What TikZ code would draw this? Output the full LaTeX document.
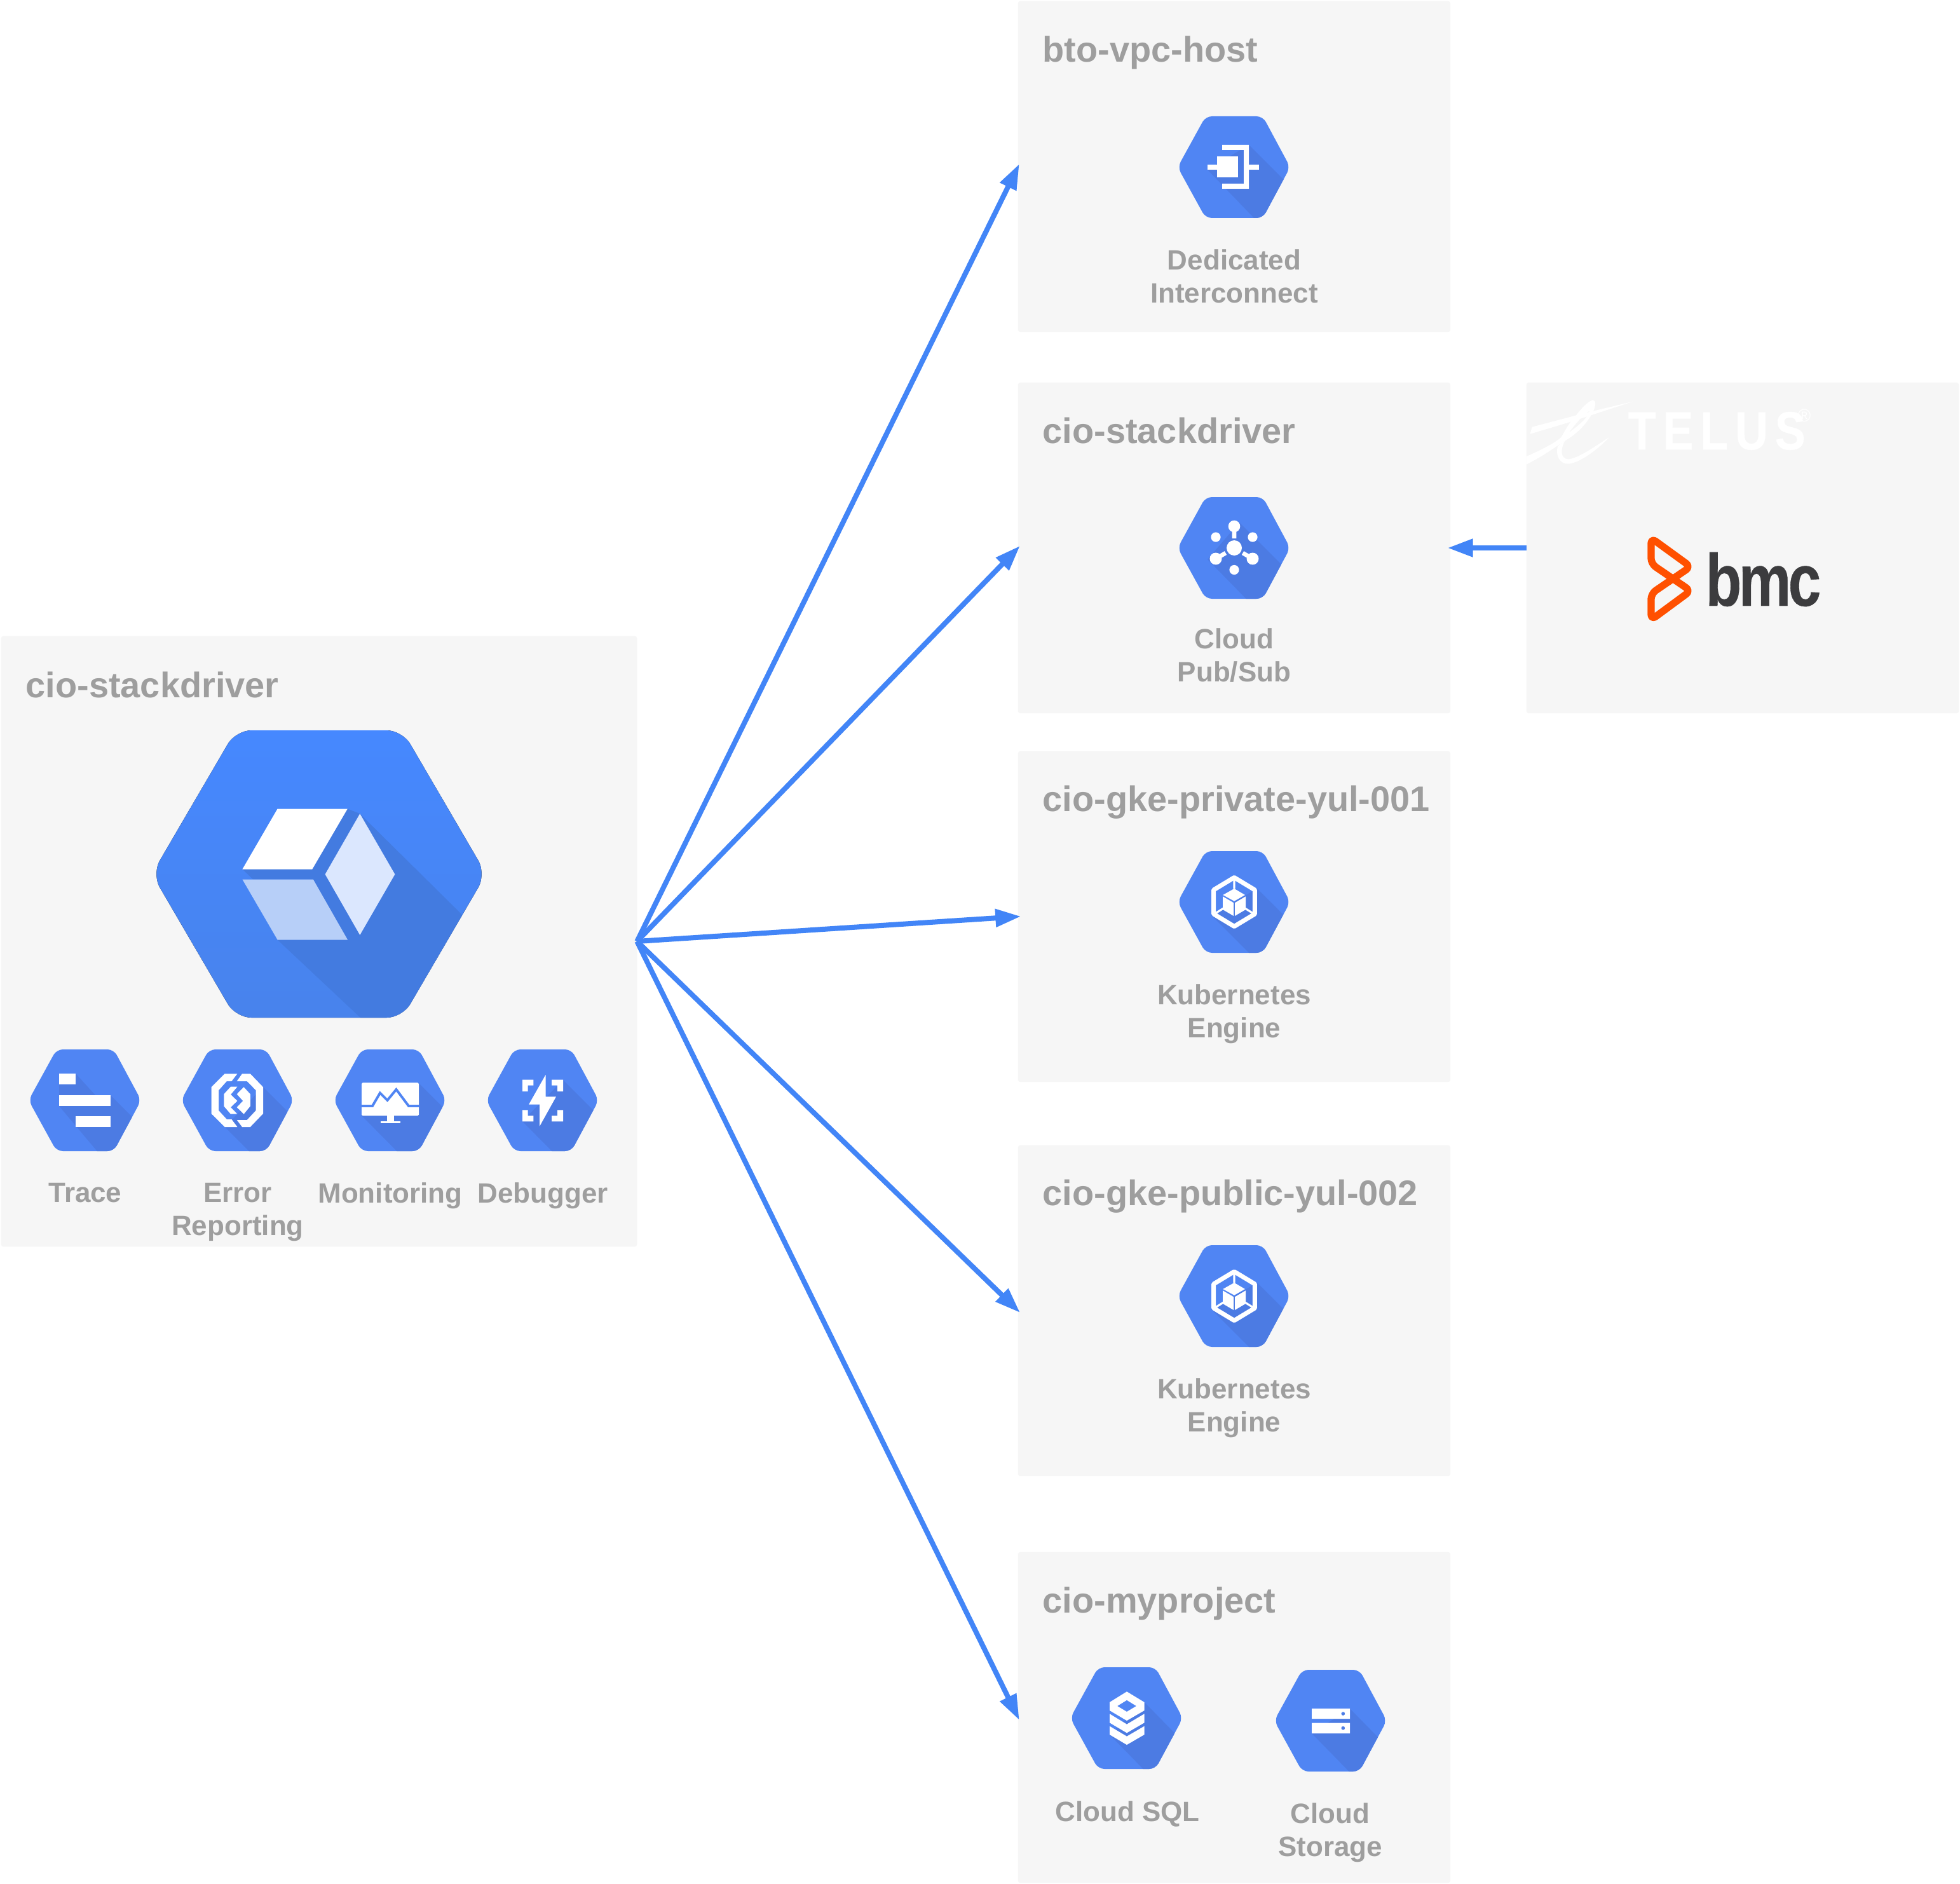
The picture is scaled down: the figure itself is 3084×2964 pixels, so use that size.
\documentclass[tikz,border=0pt]{standalone}
\usepackage{fontspec}
\setmainfont{Liberation Sans}
\newfontfamily\telusfont[LetterSpace=13,FakeStretch=0.85,FakeBold=0.6]{Liberation Sans Bold}
\newfontfamily\bmcfont[LetterSpace=-5,FakeBold=0.4]{Liberation Sans Bold}
\usetikzlibrary{arrows.meta}
\definecolor{panelgrey}{HTML}{F6F6F6}
\definecolor{textgrey}{HTML}{9E9E9E}
\definecolor{linkblue}{HTML}{4285F7}
\definecolor{hexblue}{HTML}{5085F3}
\definecolor{hexshadow}{HTML}{4C7BE3}
\definecolor{bigtop}{HTML}{4688FF}
\definecolor{bigbottom}{HTML}{4883EC}
\definecolor{bigshadow}{HTML}{437BE0}
\definecolor{cubemid}{HTML}{B7CFF8}
\definecolor{cubepale}{HTML}{DBE7FE}
\definecolor{bmcorange}{HTML}{FF5000}
\definecolor{bmcdark}{HTML}{3C3C3E}
\tikzset{
  panel/.style={fill=panelgrey,draw=none,rounded corners=1pt,inner sep=0,outer sep=0},
  conn/.style={linkblue,line width=2.28pt,shorten >=-1.3pt,-{Triangle[length=11.4pt,width=7.7pt]}},
  title/.style={anchor=base west,inner sep=0,text=textgrey,font=\bfseries\fontsize{15.9}{18}\selectfont},
  lbl/.style={anchor=north,inner sep=0,align=center,text=textgrey,font=\bfseries\fontsize{12.5}{14.7}\selectfont},
  ic/.style={fill=white,draw=none},
  sh/.style={fill=hexshadow,draw=none}
}
\newcommand{\hexicon}[3]{%
  \begin{scope}[shift={(#1,#2)}]
    \clip[rounded corners=2.8pt] (-89,0)--(-45,-80)--(45,-80)--(88,0)--(45,80)--(-45,80)--cycle;
    \fill[hexblue] (-100,-100) rectangle (100,100);
    #3
  \end{scope}}
\newcommand{\kubeicon}{%
  \fill[sh] (36,-21)--(110,53)--(110,110)--(53,110)--(-36,21)--cycle;
  \draw[white,line width=2pt,line join=round] (0,-38.5)--(32.3,-19)--(32.3,19)--(0,38.5)--(-32.3,19)--(-32.3,-19)--cycle;
  \draw[white,line width=0.9pt] (0,-38)--(0,-21) (-33,20)--(-17,10) (33,20)--(17,10);
  \fill[ic] (0,-21)--(17,-11)--(0,-1.3)--(-17.7,-11)--cycle;
  \fill[ic] (-18,-8.7)--(-1,1.3)--(-1,22)--(-18,12)--cycle;
  \fill[ic] (1,1.3)--(18,-8.7)--(18,12)--(1,22)--cycle;}
\begin{document}
\begin{tikzpicture}[x=0.01cm,y=-0.01cm]
\useasboundingbox (0,0) rectangle (3084,2964);
\fill[white] (0,0) rectangle (3084,2964);

% panels
\node[panel,minimum width=10cm,minimum height=9.6cm] (src) at (502,1481) {};
\node[panel,minimum width=6.8cm,minimum height=5.2cm] (p1) at (1942,262) {};
\node[panel,minimum width=6.8cm,minimum height=5.2cm] (p2) at (1942,862) {};
\node[panel,minimum width=6.8cm,minimum height=5.2cm] (p3) at (1942,1442) {};
\node[panel,minimum width=6.8cm,minimum height=5.2cm] (p4) at (1942,2062) {};
\node[panel,minimum width=6.8cm,minimum height=5.2cm] (p5) at (1942,2702) {};
\node[panel,minimum width=6.8cm,minimum height=5.2cm] (bmcp) at (2742,862) {};

% connectors
\draw[conn] (src.east) -- (p1.west);
\draw[conn] (src.east) -- (p2.west);
\draw[conn] (src.east) -- (p3.west);
\draw[conn] (src.east) -- (p4.west);
\draw[conn] (src.east) -- (p5.west);
\draw[conn] (bmcp.west) -- (p2.east);

% titles
\node[title] (t1) at (1640,98) {bto-vpc-host};
\node[title] (t2) at (1640,697) {cio-stackdriver};
\node[title] (t3) at (1640,1276) {cio-gke-private-yul-001};
\node[title] (t4) at (1640,1896) {cio-gke-public-yul-002};
\node[title] (t5) at (1640,2537) {cio-myproject};
\node[title] (t0) at (40,1097) {cio-stackdriver};

% labels
\node[lbl] (l1) at (1942,392) {Dedicated\\Interconnect};
\node[lbl] (l2) at (1942,988) {Cloud\\Pub/Sub};
\node[lbl] (l3) at (1942,1548) {Kubernetes\\Engine};
\node[lbl] (l4) at (1942,2168) {Kubernetes\\Engine};
\node[lbl] (l5) at (1774,2833) {Cloud SQL};
\node[lbl] (l6) at (2093,2836) {Cloud\\Storage};
\node[lbl] (l7) at (134,1861) {Trace};
\node[lbl] (l8) at (374,1861) {Error\\Reporting};
\node[lbl] (l9) at (614,1860) {Monitoring};
\node[lbl] (l10) at (854,1860) {Debugger};

% big hexagon
\begin{scope}[shift={(502,1375)}]
  \clip[rounded corners=7pt] (-263,0)--(-131,-226)--(131,-226)--(263,0)--(131,226)--(-131,226)--cycle;
  \fill[top color=bigtop,bottom color=bigbottom,draw=none] (-270,-230) rectangle (270,230);
  \fill[bigshadow] (44.8,-102.5)--(64,-95)--(235,74)--(235,240)--(80,240)--(-65.4,103.5)--(-9.2,8.5)--(-103.7,8.5)--(-120.6,-7.5)--cycle;
  \fill[white] (-65.4,-102.5)--(44.8,-102.5)--(-10.7,-7.5)--(-120.6,-7.5)--cycle;
  \fill[cubemid] (-120.6,8.5)--(-9.2,8.5)--(45,103.5)--(-65.4,103.5)--cycle;
  \fill[cubepale] (64.3,-94.8)--(119.4,0.5)--(64.3,96)--(9.6,0.5)--cycle;
\end{scope}

% Dedicated Interconnect
\hexicon{1942}{263}{
  \fill[sh] (23,-35)--(123,65)--(110,110)--(60,110)--(-42,4)--cycle;
  \fill[ic] (-27,-17) rectangle (5.7,16.3);
  \fill[ic] (-42,-4.3) rectangle (-27,4.3);
  \fill[ic] (-19,-35)--(23,-35)--(23,34)--(-19,34)--(-19,26)--(15,26)--(15,-27)--(-19,-27)--cycle;
  \fill[ic] (23,-4.3) rectangle (39,4.3);
}
% Pub/Sub
\hexicon{1942}{862}{
  \fill[sh] (8,-40)--(120,72)--(110,110)--(48,110)--(-42,18)--cycle;
  \fill[ic] (0,-34) circle[radius=9.3] (0,0) circle[radius=12] (-29,17) circle[radius=9.5] (29,17) circle[radius=9.5];
  \fill[ic] (-29,-17) circle[radius=7.6] (29,-17) circle[radius=7.6] (0,34.5) circle[radius=7.6];
  \draw[white,line width=1.9pt] (0,-34)--(0,-15) (-29,17)--(-13.5,8) (29,17)--(13.5,8);
}
% Kubernetes
\hexicon{1942}{1419}{\kubeicon}
\hexicon{1942}{2039}{\kubeicon}
% Cloud SQL
\hexicon{1773}{2703}{
  \fill[sh] (27.5,-25)--(115,64)--(115,110)--(55,110)--(-27,26)--cycle;
  \fill[ic,even odd rule] (0,-41.7)--(27.5,-25)--(27.5,-12)--(0,4)--(-27,-12)--(-27,-25)--cycle (0,-28.3)--(15,-19)--(0,-10)--(-15,-19)--cycle;
  \fill[ic] (-27,-6.7)--(0,9.7)--(27.5,-6.7)--(27.5,7.3)--(0,23.3)--(-27,7.3)--cycle;
  \fill[ic] (-27,12.7)--(0,28.7)--(27.5,12.7)--(27.5,26)--(0,42)--(-27,26)--cycle;
}
% Cloud Storage
\hexicon{2094}{2707}{
  \fill[sh] (30,-19)--(115,68)--(115,110)--(58,110)--(-30,20)--cycle;
  \fill[ic,even odd rule] (-30,-19) rectangle (30,-3) (19.3,-11) circle[radius=3];
  \fill[ic,even odd rule] (-30,3.7) rectangle (30,20) (19.3,11.7) circle[radius=3];
}
% Trace
\hexicon{134}{1731}{
  \fill[sh] (-15,-42)--(16,-8)--(40,-8)--(110,62)--(110,110)--(44,110)--(-41,9)--(-41,-25)--cycle;
  \fill[ic] (-41,-41.7) rectangle (-15,-24.7);
  \fill[ic] (-41,-8.3) rectangle (40,8.7);
  \fill[ic] (-15,25) rectangle (40,42);
}
% Error Reporting
\hexicon{374}{1731}{
  \fill[sh] (40,-21)--(115,54)--(115,115)--(53,115)--(-20,42)--cycle;
  \fill[ic] (-20.4,-41.7)--(-0.6,-41.7)--(-9.6,-30)--(-17.2,-30)--(-30,-15.7)--(-30,16)--(-17.2,30)--(-9.6,30)--(-0.6,42)--(-20.4,42)--(-41.5,21)--(-41.5,-20.7)--cycle;
  \fill[ic] (-1.3,-30)--(7,-41.7)--(19.8,-41.7)--(40,-20.7)--(40,21)--(19.8,42)--(7,42)--(-1.3,31)--(14.7,31)--(28.7,16)--(28.7,-15.7)--(14.7,-30)--cycle;
  \fill[ic] (-11,-21.3)--(-0.6,-21.3)--(-11,-9)--(-0.6,1)--(-11,11)--(-0.6,21.7)--(-11,21.7)--(-21.7,9.3)--(-21.7,-9.7)--cycle;
  \fill[ic] (9.6,-20.7)--(19.8,-9.7)--(19.8,9.3)--(9.6,21.7)--(-1.3,11)--(8.3,1)--(-1.3,-9.7)--cycle;
}
% Monitoring
\hexicon{614}{1731}{
  \fill[sh] (45,-27)--(125,53)--(125,120)--(50,120)--(-45,24)--cycle;
  \fill[ic,rounded corners=0.5pt] (-45,-27.7) rectangle (45,24.3);
  \draw[hexblue,line width=1.1pt] (-46,9)--(-28,9)--(-16,-11.5)--(-4.5,0)--(9.5,-17)--(29,9)--(46,9);
  \fill[ic] (-4.6,24) rectangle (5.7,33);
  \fill[ic] (-15.3,32.7) rectangle (16,36);
}
% Debugger
\hexicon{854}{1731}{
  \fill[sh] (32,-32)--(118,54)--(118,118)--(52,118)--(-32,33)--cycle;
  \fill[ic] (4.5,-40)--(4.5,-5.7)--(21,-5.7)--(-5,41)--(-5,6.7)--(-22,6.7)--cycle;
  \fill[ic] (-32,-32.3)--(-14.7,-32.3)--(-14.7,-23.3)--(-23.4,-23.3)--(-23.4,-14)--(-32,-14)--cycle;
  \fill[ic] (14,-32.3)--(32,-32.3)--(32,-14)--(23,-14)--(23,-23.3)--(14,-23.3)--cycle;
  \fill[ic] (-32,15.3)--(-23.4,15.3)--(-23.4,24.3)--(-14.7,24.3)--(-14.7,33.3)--(-32,33.3)--cycle;
  \fill[ic] (23,15.3)--(32,15.3)--(32,33.3)--(14,33.3)--(14,24.3)--(23,24.3)--cycle;
}

% TELUS logo (white on grey)
\node[anchor=base west,inner sep=0,text=white,font=\telusfont\fontsize{24}{24}\selectfont] (telus) at (2561,707) {TELUS};
\node[anchor=center,inner sep=0,text=white,font=\fontsize{8}{8}\selectfont] (telusr) at (2839,654) {®};
\begin{scope}[shift={(2250,600)},xscale=0.532,yscale=0.345]
  \clip (286,0) rectangle (800,500);
  \fill[white] (302,208)--(432,155)--(470,140)--(600,92)--(475,155)--(415,185)--(296,240)--cycle;
  \fill[white] (286,342) .. controls (340,305) and (375,275) .. (388,255) .. controls (400,225) and (410,190) .. (432,155) .. controls (450,120) and (465,95) .. (480,86) .. controls (492,85) and (492,110) .. (480,145) .. controls (465,190) and (435,240) .. (400,270) .. controls (370,300) and (330,345) .. (286,378) -- cycle
    (458,147) .. controls (450,160) and (430,195) .. (410,235) .. controls (440,200) and (465,170) .. (472,135) -- cycle;
  \fill[white] (378,295) .. controls (370,340) and (385,378) .. (410,376) .. controls (440,372) and (490,320) .. (530,255) .. controls (490,295) and (440,350) .. (410,355) .. controls (385,355) and (385,310) .. (400,268) -- cycle;
\end{scope}

% bmc logo
\begin{scope}[shift={(2250,600)},xscale=0.532,yscale=0.345]
  \draw[bmcorange,line width=3.2pt,line join=round,rounded corners=2.5pt] (654,714)--(771,845)--(654,968)--(654,1088)--(771,955)--(654,832)--cycle;
\end{scope}
\node[anchor=base west,inner sep=0,text=bmcdark,xscale=0.8,transform shape,font=\bmcfont\fontsize{33}{33}\selectfont] (bmc) at (2683,953) {bmc};
\end{tikzpicture}
\end{document}
